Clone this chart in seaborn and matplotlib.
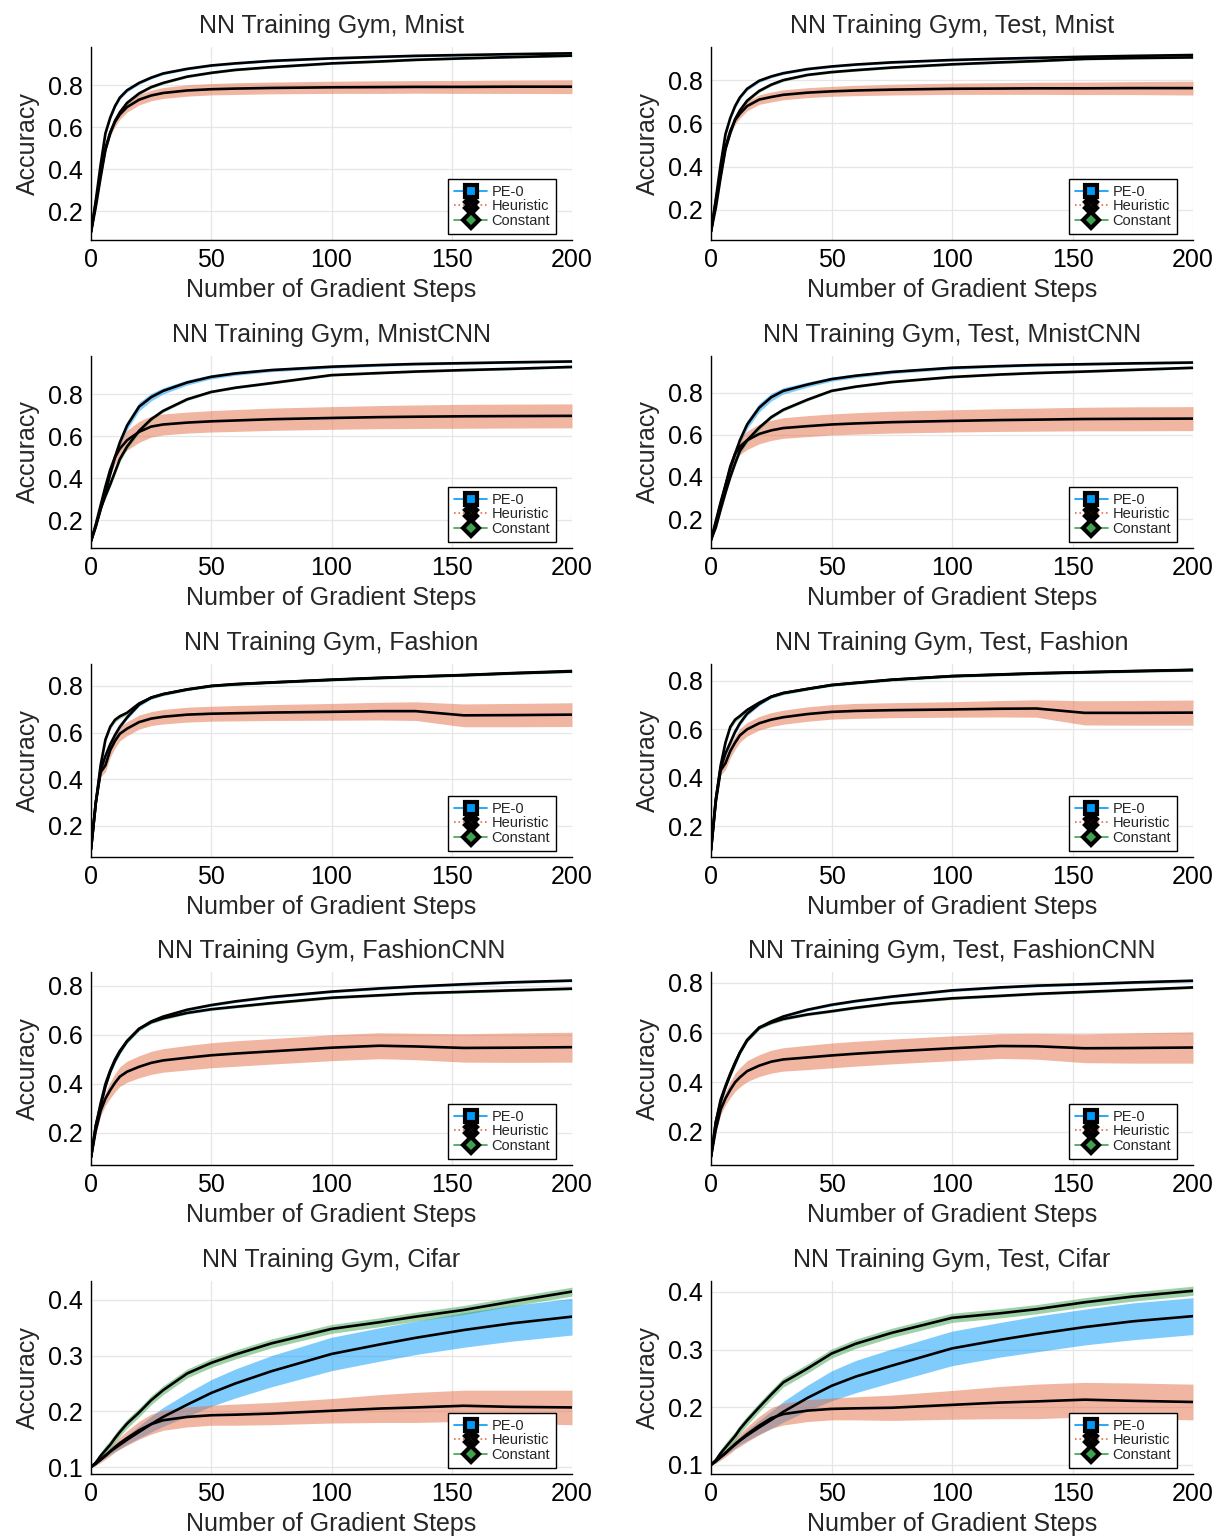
import matplotlib
matplotlib.use("Agg")
import matplotlib.pyplot as plt
from matplotlib.lines import Line2D
import seaborn as sns

# ---------------- data ----------------
steps = [0, 2, 4, 6, 8, 10, 12, 15, 20, 25, 30, 40, 50, 60, 75, 100, 120, 135, 155, 175, 200]

titles = ["NN Training Gym, Mnist", "NN Training Gym, Test, Mnist",
          "NN Training Gym, MnistCNN", "NN Training Gym, Test, MnistCNN",
          "NN Training Gym, Fashion", "NN Training Gym, Test, Fashion",
          "NN Training Gym, FashionCNN", "NN Training Gym, Test, FashionCNN",
          "NN Training Gym, Cifar", "NN Training Gym, Test, Cifar"]
series_names = ["PE-0", "Heuristic", "Constant"]
xlabel_text = "Number of Gradient Steps"
ylabel_text = "Accuracy"
xtick_values = [0, 50, 100, 150, 200]
yticks_main = [0.2, 0.4, 0.6, 0.8]
yticks_cifar = [0.1, 0.2, 0.3, 0.4]

narrow_sd = [0.002, 0.006, 0.009, 0.01, 0.01, 0.01, 0.009, 0.008, 0.007, 0.006, 0.006,
             0.005, 0.005, 0.005, 0.005, 0.005, 0.005, 0.005, 0.005, 0.005, 0.005]
cnn_pe_sd = [0.002, 0.004, 0.006, 0.009, 0.012, 0.015, 0.018, 0.02, 0.02, 0.018, 0.015,
             0.012, 0.01, 0.009, 0.008, 0.007, 0.006, 0.006, 0.005, 0.005, 0.005]
cnn_const_sd = [0.002, 0.006, 0.01, 0.012, 0.013, 0.013, 0.013, 0.012, 0.01, 0.008, 0.007,
                0.006, 0.005, 0.005, 0.005, 0.005, 0.005, 0.005, 0.005, 0.005, 0.005]

# Mnist (train)
mnist_pe = [0.10, 0.25, 0.42, 0.57, 0.645, 0.70, 0.74, 0.775, 0.81, 0.835, 0.855, 0.877, 0.893, 0.903, 0.915, 0.927, 0.934, 0.939, 0.943, 0.947, 0.951]
mnist_heur = [0.10, 0.24, 0.38, 0.50, 0.575, 0.625, 0.66, 0.695, 0.73, 0.75, 0.762, 0.774, 0.78, 0.783, 0.786, 0.789, 0.79, 0.791, 0.791, 0.792, 0.792]
mnist_heur_sd = [0.003, 0.008, 0.013, 0.017, 0.02, 0.022, 0.023, 0.024, 0.025, 0.025, 0.026, 0.027, 0.027, 0.028, 0.028, 0.029, 0.03, 0.03, 0.031, 0.032, 0.033]
mnist_const = [0.10, 0.22, 0.36, 0.49, 0.57, 0.63, 0.67, 0.715, 0.76, 0.79, 0.81, 0.84, 0.858, 0.872, 0.885, 0.903, 0.912, 0.92, 0.927, 0.933, 0.94]

# Mnist (test)
mnist_t_pe = [0.10, 0.25, 0.41, 0.55, 0.625, 0.68, 0.72, 0.76, 0.797, 0.817, 0.832, 0.851, 0.863, 0.872, 0.882, 0.893, 0.899, 0.903, 0.908, 0.912, 0.916]
mnist_t_heur = [0.10, 0.24, 0.37, 0.49, 0.565, 0.615, 0.645, 0.68, 0.71, 0.722, 0.732, 0.742, 0.748, 0.752, 0.756, 0.76, 0.761, 0.762, 0.762, 0.763, 0.763]
mnist_t_heur_sd = [0.003, 0.008, 0.012, 0.016, 0.018, 0.02, 0.021, 0.022, 0.022, 0.023, 0.023, 0.023, 0.023, 0.024, 0.025, 0.026, 0.027, 0.028, 0.029, 0.03, 0.032]
mnist_t_const = [0.10, 0.21, 0.35, 0.48, 0.555, 0.62, 0.66, 0.705, 0.75, 0.779, 0.80, 0.824, 0.837, 0.846, 0.858, 0.873, 0.882, 0.888, 0.898, 0.902, 0.905]

# MnistCNN (train)
mcnn_pe = [0.10, 0.17, 0.25, 0.33, 0.42, 0.50, 0.57, 0.65, 0.74, 0.785, 0.815, 0.855, 0.882, 0.898, 0.914, 0.93, 0.938, 0.943, 0.947, 0.951, 0.955]
mcnn_heur = [0.10, 0.18, 0.27, 0.36, 0.44, 0.50, 0.54, 0.58, 0.62, 0.645, 0.655, 0.664, 0.67, 0.674, 0.68, 0.686, 0.69, 0.692, 0.694, 0.695, 0.696]
mcnn_heur_sd = [0.003, 0.008, 0.012, 0.018, 0.025, 0.032, 0.04, 0.047, 0.05, 0.05, 0.05, 0.05, 0.051, 0.052, 0.053, 0.054, 0.055, 0.056, 0.057, 0.057, 0.057]
mcnn_const = [0.10, 0.17, 0.255, 0.315, 0.37, 0.43, 0.49, 0.55, 0.625, 0.68, 0.72, 0.775, 0.81, 0.83, 0.852, 0.89, 0.90, 0.907, 0.914, 0.92, 0.929]

# MnistCNN (test)
mcnn_t_pe = [0.10, 0.19, 0.28, 0.36, 0.44, 0.51, 0.575, 0.65, 0.73, 0.78, 0.81, 0.84, 0.866, 0.882, 0.90, 0.92, 0.928, 0.933, 0.937, 0.941, 0.945]
mcnn_t_heur = [0.10, 0.18, 0.27, 0.36, 0.45, 0.51, 0.545, 0.575, 0.605, 0.622, 0.633, 0.642, 0.65, 0.655, 0.661, 0.667, 0.671, 0.673, 0.676, 0.677, 0.678]
mcnn_t_heur_sd = [0.003, 0.008, 0.012, 0.018, 0.025, 0.032, 0.038, 0.044, 0.047, 0.048, 0.049, 0.05, 0.05, 0.051, 0.052, 0.053, 0.054, 0.055, 0.056, 0.057, 0.057]
mcnn_t_const = [0.10, 0.16, 0.245, 0.325, 0.40, 0.465, 0.525, 0.575, 0.635, 0.685, 0.72, 0.768, 0.81, 0.83, 0.852, 0.876, 0.888, 0.895, 0.902, 0.91, 0.92]

# Fashion (train)
fash_pe = [0.10, 0.30, 0.44, 0.50, 0.55, 0.59, 0.625, 0.665, 0.72, 0.75, 0.765, 0.785, 0.80, 0.808, 0.815, 0.827, 0.835, 0.84, 0.847, 0.855, 0.864]
fash_heur = [0.10, 0.30, 0.43, 0.46, 0.525, 0.565, 0.595, 0.617, 0.645, 0.66, 0.668, 0.677, 0.681, 0.683, 0.686, 0.689, 0.692, 0.692, 0.674, 0.675, 0.677]
fash_heur_sd = [0.003, 0.01, 0.02, 0.028, 0.03, 0.03, 0.03, 0.03, 0.03, 0.03, 0.031, 0.032, 0.032, 0.033, 0.034, 0.036, 0.038, 0.04, 0.049, 0.05, 0.051]
fash_const = [0.10, 0.30, 0.46, 0.57, 0.625, 0.655, 0.67, 0.685, 0.725, 0.75, 0.765, 0.785, 0.80, 0.807, 0.815, 0.826, 0.834, 0.84, 0.846, 0.854, 0.862]

# Fashion (test)
fash_t_pe = [0.10, 0.31, 0.44, 0.50, 0.545, 0.59, 0.625, 0.665, 0.705, 0.735, 0.75, 0.767, 0.783, 0.792, 0.805, 0.82, 0.827, 0.832, 0.836, 0.841, 0.846]
fash_t_heur = [0.10, 0.30, 0.43, 0.46, 0.51, 0.545, 0.575, 0.60, 0.625, 0.64, 0.65, 0.663, 0.672, 0.676, 0.679, 0.682, 0.685, 0.686, 0.668, 0.668, 0.669]
fash_t_heur_sd = [0.003, 0.01, 0.02, 0.026, 0.028, 0.028, 0.028, 0.028, 0.028, 0.029, 0.029, 0.03, 0.03, 0.031, 0.031, 0.032, 0.034, 0.036, 0.05, 0.051, 0.052]
fash_t_const = [0.10, 0.31, 0.45, 0.545, 0.61, 0.64, 0.655, 0.68, 0.71, 0.735, 0.75, 0.767, 0.783, 0.792, 0.805, 0.82, 0.826, 0.831, 0.836, 0.84, 0.845]

# FashionCNN (train)
fcnn_pe = [0.10, 0.23, 0.31, 0.39, 0.45, 0.495, 0.53, 0.575, 0.625, 0.655, 0.675, 0.703, 0.722, 0.737, 0.755, 0.777, 0.79, 0.798, 0.807, 0.815, 0.822]
fcnn_heur = [0.10, 0.21, 0.29, 0.34, 0.375, 0.405, 0.43, 0.45, 0.47, 0.486, 0.496, 0.507, 0.517, 0.524, 0.533, 0.548, 0.556, 0.553, 0.547, 0.548, 0.55]
fcnn_heur_sd = [0.003, 0.012, 0.02, 0.028, 0.033, 0.037, 0.04, 0.043, 0.045, 0.047, 0.048, 0.05, 0.051, 0.052, 0.052, 0.053, 0.053, 0.054, 0.058, 0.06, 0.061]
fcnn_const = [0.10, 0.23, 0.32, 0.40, 0.455, 0.50, 0.535, 0.575, 0.625, 0.652, 0.668, 0.69, 0.705, 0.715, 0.73, 0.752, 0.762, 0.77, 0.776, 0.782, 0.789]

# FashionCNN (test)
fcnn_t_pe = [0.10, 0.24, 0.32, 0.38, 0.43, 0.475, 0.52, 0.57, 0.62, 0.645, 0.665, 0.692, 0.712, 0.727, 0.745, 0.77, 0.782, 0.789, 0.795, 0.802, 0.809]
fcnn_t_heur = [0.10, 0.21, 0.29, 0.335, 0.37, 0.40, 0.42, 0.445, 0.467, 0.483, 0.492, 0.50, 0.508, 0.515, 0.524, 0.537, 0.546, 0.545, 0.537, 0.538, 0.54]
fcnn_t_heur_sd = [0.003, 0.012, 0.02, 0.027, 0.032, 0.036, 0.039, 0.042, 0.044, 0.046, 0.047, 0.049, 0.05, 0.05, 0.05, 0.05, 0.05, 0.052, 0.058, 0.061, 0.063]
fcnn_t_const = [0.10, 0.24, 0.33, 0.385, 0.435, 0.48, 0.52, 0.57, 0.62, 0.64, 0.655, 0.673, 0.686, 0.70, 0.718, 0.738, 0.748, 0.756, 0.764, 0.772, 0.782]

# Cifar (train)
cifar_pe = [0.10, 0.107, 0.114, 0.121, 0.128, 0.134, 0.14, 0.149, 0.163, 0.177, 0.19, 0.212, 0.233, 0.25, 0.272, 0.303, 0.32, 0.332, 0.346, 0.358, 0.37]
cifar_pe_sd = [0.001, 0.002, 0.003, 0.004, 0.005, 0.006, 0.007, 0.008, 0.011, 0.014, 0.017, 0.021, 0.024, 0.026, 0.028, 0.03, 0.03, 0.03, 0.031, 0.032, 0.033]
cifar_heur = [0.10, 0.106, 0.113, 0.12, 0.128, 0.136, 0.143, 0.152, 0.166, 0.177, 0.184, 0.19, 0.193, 0.194, 0.196, 0.201, 0.205, 0.207, 0.21, 0.208, 0.207]
cifar_heur_sd = [0.001, 0.003, 0.005, 0.006, 0.008, 0.009, 0.011, 0.013, 0.016, 0.018, 0.018, 0.018, 0.018, 0.019, 0.02, 0.022, 0.025, 0.027, 0.028, 0.03, 0.031]
cifar_const = [0.10, 0.108, 0.12, 0.13, 0.14, 0.152, 0.163, 0.178, 0.198, 0.22, 0.238, 0.268, 0.287, 0.302, 0.322, 0.348, 0.36, 0.37, 0.382, 0.397, 0.415]
cifar_const_sd = [0.001, 0.005, 0.007, 0.008, 0.008, 0.008, 0.008, 0.008, 0.008, 0.008, 0.008, 0.008, 0.008, 0.008, 0.008, 0.008, 0.008, 0.008, 0.008, 0.008, 0.008]

# Cifar (test)
cifar_t_pe = [0.10, 0.107, 0.114, 0.121, 0.128, 0.135, 0.142, 0.151, 0.165, 0.178, 0.192, 0.216, 0.237, 0.253, 0.272, 0.302, 0.317, 0.327, 0.339, 0.349, 0.358]
cifar_t_pe_sd = [0.001, 0.002, 0.003, 0.004, 0.005, 0.006, 0.007, 0.009, 0.012, 0.015, 0.018, 0.022, 0.026, 0.028, 0.029, 0.03, 0.03, 0.031, 0.031, 0.032, 0.032]
cifar_t_heur = [0.10, 0.106, 0.113, 0.12, 0.128, 0.136, 0.143, 0.153, 0.168, 0.181, 0.188, 0.194, 0.197, 0.198, 0.199, 0.204, 0.208, 0.21, 0.213, 0.211, 0.209]
cifar_t_heur_sd = [0.001, 0.003, 0.005, 0.006, 0.008, 0.009, 0.011, 0.013, 0.016, 0.018, 0.019, 0.019, 0.019, 0.02, 0.022, 0.025, 0.028, 0.03, 0.03, 0.031, 0.031]
cifar_t_const = [0.10, 0.108, 0.12, 0.13, 0.14, 0.15, 0.162, 0.177, 0.20, 0.222, 0.243, 0.267, 0.293, 0.31, 0.329, 0.355, 0.363, 0.37, 0.382, 0.392, 0.402]

y_limits = [(0.062, 0.981), (0.061, 0.953), (0.067, 0.981), (0.062, 0.976),
            (0.067, 0.894), (0.072, 0.870), (0.069, 0.857), (0.067, 0.844),
            (0.0875, 0.434), (0.084, 0.419)]

panels = [
    (mnist_pe, narrow_sd, mnist_heur, mnist_heur_sd, mnist_const, narrow_sd),
    (mnist_t_pe, narrow_sd, mnist_t_heur, mnist_t_heur_sd, mnist_t_const, narrow_sd),
    (mcnn_pe, cnn_pe_sd, mcnn_heur, mcnn_heur_sd, mcnn_const, cnn_const_sd),
    (mcnn_t_pe, cnn_pe_sd, mcnn_t_heur, mcnn_t_heur_sd, mcnn_t_const, cnn_const_sd),
    (fash_pe, narrow_sd, fash_heur, fash_heur_sd, fash_const, narrow_sd),
    (fash_t_pe, narrow_sd, fash_t_heur, fash_t_heur_sd, fash_t_const, narrow_sd),
    (fcnn_pe, narrow_sd, fcnn_heur, fcnn_heur_sd, fcnn_const, narrow_sd),
    (fcnn_t_pe, narrow_sd, fcnn_t_heur, fcnn_t_heur_sd, fcnn_t_const, narrow_sd),
    (cifar_pe, cifar_pe_sd, cifar_heur, cifar_heur_sd, cifar_const, cifar_const_sd),
    (cifar_t_pe, cifar_t_pe_sd, cifar_t_heur, cifar_t_heur_sd, cifar_t_const, cifar_const_sd),
]

# ---------------- style ----------------
sns.set_style("white")
plt.rcParams['font.family'] = ['Liberation Sans', 'DejaVu Sans']

colors = ["#009AFA", "#E36F47", "#3EA44E"]

W, H = 1219, 1536
fig = plt.figure(figsize=(W / 100, H / 100), dpi=100)

cols = [(91, 572), (711, 1193)]
rows = [(47, 240), (356, 548), (664, 857), (972, 1165), (1281, 1474)]

legend_handles = [
    Line2D([0], [0], color=colors[0], lw=1.2, marker='s', markersize=9,
           markerfacecolor=colors[0], markeredgecolor='black', markeredgewidth=3),
    Line2D([0], [0], color=colors[1], lw=1.2, ls=':', marker='X', markersize=9,
           markerfacecolor=colors[1], markeredgecolor='black', markeredgewidth=3),
    Line2D([0], [0], color=colors[2], lw=1.2, marker='D', markersize=8,
           markerfacecolor=colors[2], markeredgecolor='black', markeredgewidth=3),
]

for i, p in enumerate(panels):
    r, c = divmod(i, 2)
    x0, x1 = cols[c]
    t, b = rows[r]
    ax = fig.add_axes([x0 / W, 1 - b / H, (x1 - x0) / W, (b - t) / H])
    means = [p[0], p[2], p[4]]
    sds = [p[1], p[3], p[5]]
    for m, s, col in zip(means, sds, colors):
        lo = [a - d for a, d in zip(m, s)]
        hi = [a + d for a, d in zip(m, s)]
        ax.fill_between(steps, lo, hi, color=col, alpha=0.5, linewidth=0, zorder=2)
    for m in means:
        sns.lineplot(x=steps, y=m, ax=ax, color='black', linewidth=1.9, zorder=3)

    ax.set_xlim(0, 200)
    ax.set_ylim(*y_limits[i])
    ax.set_xticks(xtick_values)
    ax.set_xticklabels([str(v) for v in xtick_values])
    yt = yticks_cifar if r == 4 else yticks_main
    ax.set_yticks(yt)
    ax.set_yticklabels([f"{v:.1f}" for v in yt])
    ax.tick_params(direction='in', length=4, width=0.8, labelsize=18, pad=6,
                   color='black', labelcolor='black')
    ax.grid(True, color='#e6e6e6', linewidth=0.9)
    ax.set_axisbelow(True)
    for side in ['top', 'right']:
        ax.spines[side].set_visible(False)
    for side in ['left', 'bottom']:
        ax.spines[side].set_color('black')
        ax.spines[side].set_linewidth(1.0)
    ax.set_title(titles[i], fontsize=18, pad=10)
    ax.set_xlabel(xlabel_text, fontsize=18, labelpad=4)
    ax.set_ylabel(ylabel_text, fontsize=18, labelpad=6)

    leg = ax.legend(legend_handles, series_names, loc='lower right',
                    bbox_to_anchor=(0.967, 0.031), fontsize=10.5, frameon=True,
                    fancybox=False, edgecolor='black', framealpha=1,
                    handlelength=2.3, handletextpad=0.3, labelspacing=0.05,
                    borderpad=0.4, borderaxespad=0.0)
    leg.get_frame().set_linewidth(1.0)
    leg.set_zorder(10)

fig.savefig("out.png", dpi=100)
